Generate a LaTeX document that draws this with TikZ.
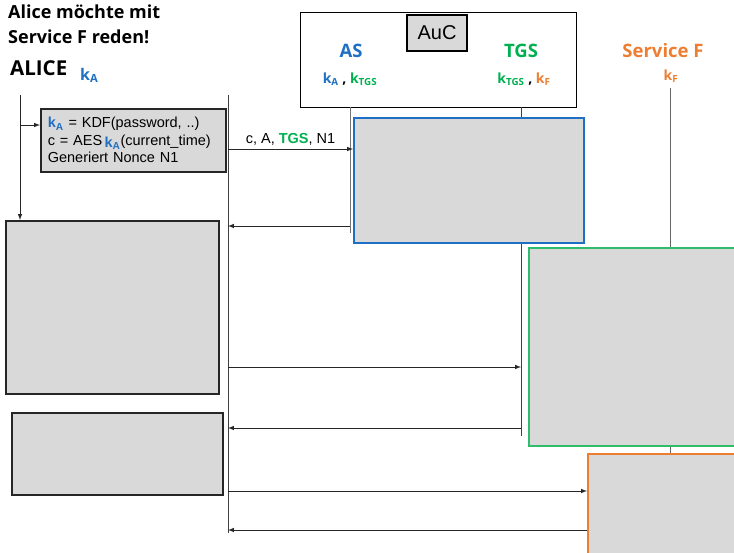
\documentclass[tikz,border=0pt]{standalone}
\usepackage{fontspec}
\setmainfont{Liberation Sans}
\newfontfamily\headfont{Open Sans}
\usetikzlibrary{positioning}
\definecolor{asblue}{HTML}{1F6FC4}
\definecolor{tgsgreen}{HTML}{00B050}
\definecolor{tgsline}{HTML}{2EBD6B}
\definecolor{svcorange}{HTML}{ED7D31}
\definecolor{boxgray}{HTML}{D9D9D9}
\newcommand{\kk}[2]{\textcolor{#1}{\textbf{k}\textsubscript{\textbf{#2}}}}
\begin{document}
\begin{tikzpicture}[x=1pt,y=-1pt,
  lifeline/.style={line width=0.8pt,black!75},
  msg/.style={-latex,line width=1pt,black!85},
  calcbox/.style={draw=black!85,fill=boxgray,line width=1.6pt,anchor=north west,inner sep=0pt},
  srvbox/.style={fill=boxgray,line width=1.5pt,anchor=north west,inner sep=0pt},
  head/.style={font=\headfont\bfseries\fontsize{18.5}{20}\selectfont,anchor=base},
  keys/.style={font=\headfont\bfseries\fontsize{14}{16}\selectfont,anchor=base}]
\useasboundingbox (0,0) rectangle (734,552);
\clip (0,0) rectangle (734,552);
% who talks to whom
\node[anchor=north west,inner sep=0pt,align=left,font=\headfont\bfseries\fontsize{18}{24.5}\selectfont] (title) at (8,5) {Alice möchte mit\\Service F reden!};
\node[anchor=base west,inner sep=0pt,font=\headfont\bfseries\fontsize{20.5}{22}\selectfont] (alicename) at (10,75) {ALICE};
\node[keys,anchor=base west,inner sep=0pt,font=\headfont\bfseries\fontsize{16}{18}\selectfont] (alicekey) at (80,80) {\kk{asblue}{A}};
\node[draw,line width=1pt,minimum width=276pt,minimum height=95pt,anchor=north west] (auc) at (300,12) {};
\node[draw,fill=boxgray,line width=1.4pt,minimum width=60pt,minimum height=36pt,inner sep=0pt,font=\fontsize{20}{22}\selectfont] (aucname) at (437,33) {AuC};
\node[head,text=asblue] (as) at (351,57) {AS};
\node[keys] (askeys) at (350,83) {\kk{asblue}{A} , \kk{tgsgreen}{TGS}};
\node[head,text=tgsgreen] (tgs) at (521,57) {TGS};
\node[keys] (tgskeys) at (524,83) {\kk{tgsgreen}{TGS} , \kk{svcorange}{F}};
\node[head,text=svcorange] (svc) at (663,57) {Service F};
\node[keys] (svckey) at (671,80) {\kk{svcorange}{F}};
% lifelines
\coordinate (alice) at (20,95);
\coordinate (net) at (228,95);
\coordinate (netend) at (228,533);
\coordinate (asline) at (350,107);
\coordinate (asend) at (350,233);
\coordinate (tgsline) at (521,107);
\coordinate (tgsend) at (521,436);
\coordinate (svcline) at (670,88);
\coordinate (svcend) at (670,560);
\coordinate (m0) at (0,125);
\coordinate (m1) at (0,149);
\coordinate (m2) at (0,226);
\coordinate (m3) at (0,367);
\coordinate (m4) at (0,428);
\coordinate (m5) at (0,491);
\coordinate (m6) at (0,530);
\draw[lifeline] (net) -- (netend);
\draw[lifeline,black!55] (asline) -- (asend);
\draw[lifeline] (tgsline) -- (tgsend);
\draw[lifeline,black!60] (svcline) -- (svcend);
% boxes
\node[calcbox,text width=171pt,inner xsep=7pt,minimum height=63pt,align=left,font=\fontsize{14.5}{17.5}\selectfont] (kdf) at (40,108)
  {\kk{asblue}{A} = KDF(password, ..)\\
   c = AES\,\raisebox{-2pt}{\kk{asblue}{A}}(current\_time)\\
   Generiert Nonce N1};
\node[calcbox,minimum width=213pt,minimum height=173pt] (ticket) at (5,220) {};
\node[calcbox,minimum width=211pt,minimum height=82pt] (svcticket) at (11,412) {};
\node[srvbox,draw=asblue,minimum width=230pt,minimum height=125pt] (asbox) at (353,117) {};
\node[srvbox,draw=tgsline,minimum width=240pt,minimum height=198pt] (tgsbox) at (528,247) {};
\node[srvbox,draw=svcorange,minimum width=200pt,minimum height=130pt] (svcbox) at (587,453) {};
% messages
\draw[msg] (alice) -- (alice |- ticket.north);
\draw[msg] (alice |- m0) -- (kdf.west |- m0);
\draw[msg] (net |- m1) -- node[above,font=\fontsize{14.5}{16}\selectfont,black] (req) {c, A, \textbf{\textcolor{tgsgreen}{TGS}}, N1} (asbox.west |- m1);
\draw[msg] (asline |- m2) -- (net |- m2);
\draw[msg] (net |- m3) -- (tgsline |- m3);
\draw[msg] (tgsline |- m4) -- (net |- m4);
\draw[msg] (net |- m5) -- (svcbox.west |- m5);
\draw[msg] (svcbox.west |- m6) -- (net |- m6);
\end{tikzpicture}
\end{document}
